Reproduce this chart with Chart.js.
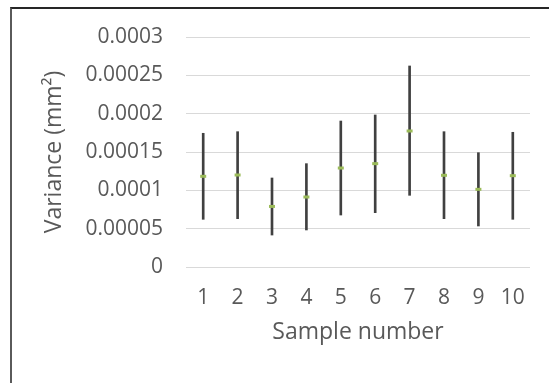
<!DOCTYPE html>
<html>
<head>
<meta charset="utf-8">
<script src="https://cdn.jsdelivr.net/npm/chart.js@4/dist/chart.umd.min.js"></script>
<style>
  html, body { margin: 0; padding: 0; background: #fff; }
  #frame {
    position: absolute; left: 10px; top: 7px;
    width: 537px; height: 374px;
    border-top: 2px solid #262626;
    border-left: 2px solid #5a5a5a;
  }
  #frame canvas { display: block; }
</style>
</head>
<body>
<div id="frame"><canvas id="varChart" width="537" height="374"></canvas></div>
<script>
// sample numbers and variance readings (mm^2)
var samples = ['1', '2', '3', '4', '5', '6', '7', '8', '9', '10'];
var variance = [0.0001183, 0.0001200, 0.0000790, 0.0000913, 0.0001291, 0.0001348, 0.0001774, 0.0001196, 0.0001013, 0.0001191];
var errLow = [0.0000622, 0.0000630, 0.0000417, 0.0000483, 0.0000678, 0.0000709, 0.0000935, 0.0000630, 0.0000535, 0.0000622];
var errHigh = [0.0001744, 0.0001765, 0.0001161, 0.0001348, 0.0001904, 0.0001983, 0.0002622, 0.0001765, 0.0001491, 0.0001757];

var ranges = [];
for (let i = 0; i < samples.length; i++) {
    ranges.push([errLow[i], errHigh[i]]);
}

const ctx = document.getElementById('varChart');
const textColor = '#595959';

const config = {
    type: 'bar',
    data: {
        labels: samples,
        datasets: [{
            label: 'Range',
            data: ranges,
            backgroundColor: '#404040',
            barThickness: 2,
            order: 1
        }, {
            type: 'line',
            label: 'Variance',
            data: variance,
            showLine: false,
            pointStyle: 'line',
            pointRadius: 3,
            pointBorderWidth: 3,
            borderColor: '#9bbb59',
            backgroundColor: '#9bbb59',
            order: 0
        }]
    },
    options: {
        responsive: false,
        animation: false,
        layout: { padding: { left: 29, top: 28, right: 19, bottom: 36 } },
        plugins: {
            legend: { display: false },
            tooltip: { enabled: false }
        },
        scales: {
            x: {
                grid: { display: false, drawTicks: false },
                border: { display: false },
                ticks: {
                    color: textColor,
                    padding: 18,
                    font: { family: 'Open Sans', size: 21 }
                },
                title: {
                    display: true,
                    text: 'Sample number',
                    color: textColor,
                    padding: { top: 0, bottom: 1 },
                    font: { family: 'Open Sans', size: 23 }
                },
                afterFit: function (scale) { scale.height = 80; }
            },
            y: {
                min: 0,
                max: 0.0003,
                grid: { color: '#d9d9d9', lineWidth: 1, drawTicks: false },
                border: { display: false },
                ticks: {
                    stepSize: 0.00005,
                    color: textColor,
                    padding: 23,
                    font: { family: 'Open Sans', size: 21 },
                    callback: function (v) { return String(Number(v.toFixed(5))); }
                },
                title: {
                    display: true,
                    text: 'Variance (mm²)',
                    color: textColor,
                    padding: { top: 0, bottom: 0 },
                    font: { family: 'Open Sans', size: 23 }
                },
                afterFit: function (scale) {
                    scale.width = 145;
                    // tick padding shouldn't push the plot down
                    scale.paddingTop = 0;
                    scale.paddingBottom = 0;
                }
            }
        }
    }
};

const varChart = new Chart(ctx, config);
</script>
</body>
</html>
